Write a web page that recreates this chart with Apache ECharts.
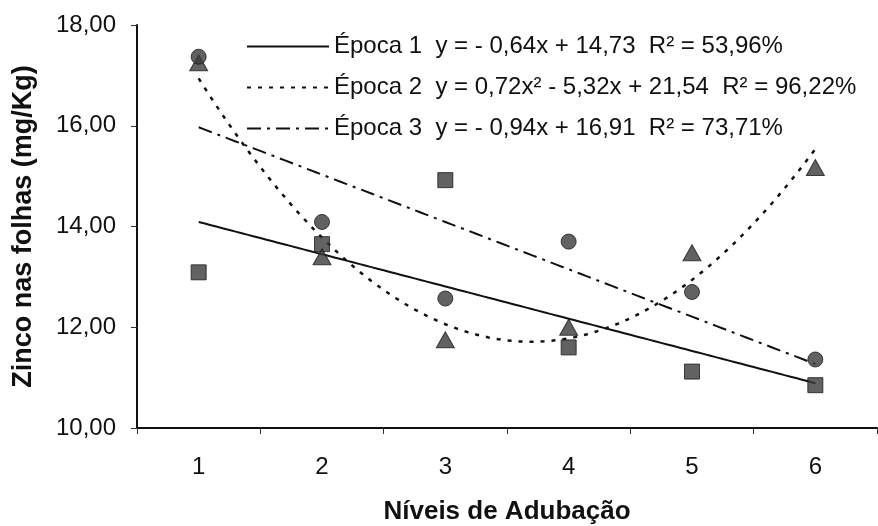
<!DOCTYPE html>
<html>
<head>
<meta charset="utf-8">
<script src="https://cdn.jsdelivr.net/npm/echarts@6/dist/echarts.min.js"></script>
<style>
  html, body { margin: 0; padding: 0; background: #ffffff; }
  #chart { width: 878px; height: 526px; }
</style>
</head>
<body>
<div id="chart"></div>
<script>
// Fertilisation levels (x axis categories)
const levels = ['1', '2', '3', '4', '5', '6'];
// y axis ticks
const yTicks = [10, 12, 14, 16, 18];

// Measured zinc in leaves (mg/Kg) per season
const epoca1 = [13.09, 13.65, 14.92, 11.60, 11.12, 10.85];
const epoca2 = [17.25, 13.40, 11.75, 12.00, 13.48, 15.17];
const epoca3 = [17.37, 14.09, 12.57, 13.70, 12.70, 11.36];

// Fitted trend coefficients [c0, c1, c2] : y = c0 + c1*x + c2*x^2
const fit1 = [14.73, -0.64, 0];
const fit2 = [21.54, -5.32, 0.72];
const fit3 = [16.91, -0.94, 0];

// Legend texts
const legendNames = [
  'Época 1  y = - 0,64x + 14,73  R² = 53,96%',
  'Época 2  y = 0,72x² - 5,32x + 21,54  R² = 96,22%',
  'Época 3  y = - 0,94x + 16,91  R² = 73,71%'
];

function trend(c) {
  const pts = [];
  const n = 100;
  for (let i = 0; i <= n; i++) {
    const x = 1 + 5 * i / n;
    pts.push([x, c[0] + c[1] * x + c[2] * x * x]);
  }
  return pts;
}

const FONT = '"Liberation Sans", Arial, sans-serif';
const markerStyle = { color: '#3b3b3b', borderColor: '#1c1c1c', borderWidth: 1 };

const chart = echarts.init(document.getElementById('chart'), null, { renderer: 'canvas' });
chart.setOption({
  backgroundColor: '#ffffff',
  animation: false,
  textStyle: { fontFamily: FONT, color: '#111' },
  grid: { left: 137, right: 1, top: 25, bottom: 98, outerBoundsMode: 'none', containLabel: false },
  legend: {
    data: legendNames,
    orient: 'vertical',
    left: 246,
    top: 34,
    padding: 0,
    itemWidth: 82,
    itemHeight: 12,
    itemGap: 16,
    selectedMode: false,
    itemStyle: { opacity: 0 },
    textStyle: { fontFamily: FONT, fontSize: 24, color: '#111', lineHeight: 25 }
  },
  xAxis: [
    {
      type: 'category',
      data: levels,
      boundaryGap: true,
      axisLine: { lineStyle: { color: '#111', width: 2 } },
      axisTick: { show: true, length: 6, lineStyle: { color: '#333', width: 1 } },
      axisLabel: { fontFamily: FONT, fontSize: 24, color: '#111', margin: 27 },
      splitLine: { show: false },
      name: 'Níveis de Adubação',
      nameLocation: 'middle',
      nameGap: 71,
      nameTextStyle: { fontFamily: FONT, fontSize: 26, fontWeight: 'bold', color: '#111' }
    },
    {
      type: 'value',
      min: 0.5,
      max: 6.5,
      show: false
    }
  ],
  yAxis: {
    type: 'value',
    min: yTicks[0],
    max: yTicks[yTicks.length - 1],
    interval: 2,
    axisLine: { show: true, lineStyle: { color: '#111', width: 2 } },
    axisTick: { show: true, length: 6, lineStyle: { color: '#333', width: 1 } },
    axisLabel: {
      fontFamily: FONT, fontSize: 24, color: '#111', margin: 21,
      formatter: v => v.toFixed(2).replace('.', ',')
    },
    splitLine: { show: false },
    name: 'Zinco nas folhas (mg/Kg)',
    nameLocation: 'middle',
    nameRotate: 90,
    nameGap: 100,
    nameTextStyle: { fontFamily: FONT, fontSize: 27, fontWeight: 'bold', color: '#111' }
  },
  series: [
    {
      name: legendNames[0], type: 'line', xAxisIndex: 1, data: trend(fit1),
      showSymbol: false, symbol: 'none', smooth: false,
      itemStyle: { color: '#111' },
      lineStyle: { color: '#111', width: 2, type: 'solid' }, z: 2
    },
    {
      name: legendNames[1], type: 'line', xAxisIndex: 1, data: trend(fit2),
      showSymbol: false, symbol: 'none', smooth: false,
      itemStyle: { color: '#111' },
      lineStyle: { color: '#111', width: 2.5, type: [4, 7] }, z: 2
    },
    {
      name: legendNames[2], type: 'line', xAxisIndex: 1, data: trend(fit3),
      showSymbol: false, symbol: 'none', smooth: false,
      itemStyle: { color: '#111' },
      lineStyle: { color: '#111', width: 2, type: [14, 6, 3, 6] }, z: 2
    },
    {
      name: 'Época 1 dados', type: 'scatter', xAxisIndex: 0, data: epoca1,
      symbol: 'rect', symbolSize: 15, itemStyle: markerStyle, z: 3
    },
    {
      name: 'Época 2 dados', type: 'scatter', xAxisIndex: 0, data: epoca2,
      symbol: 'triangle', symbolSize: [18, 16], itemStyle: markerStyle, z: 3
    },
    {
      name: 'Época 3 dados', type: 'scatter', xAxisIndex: 0, data: epoca3,
      symbol: 'circle', symbolSize: 15, itemStyle: markerStyle, z: 4
    }
  ]
});
</script>
</body>
</html>
